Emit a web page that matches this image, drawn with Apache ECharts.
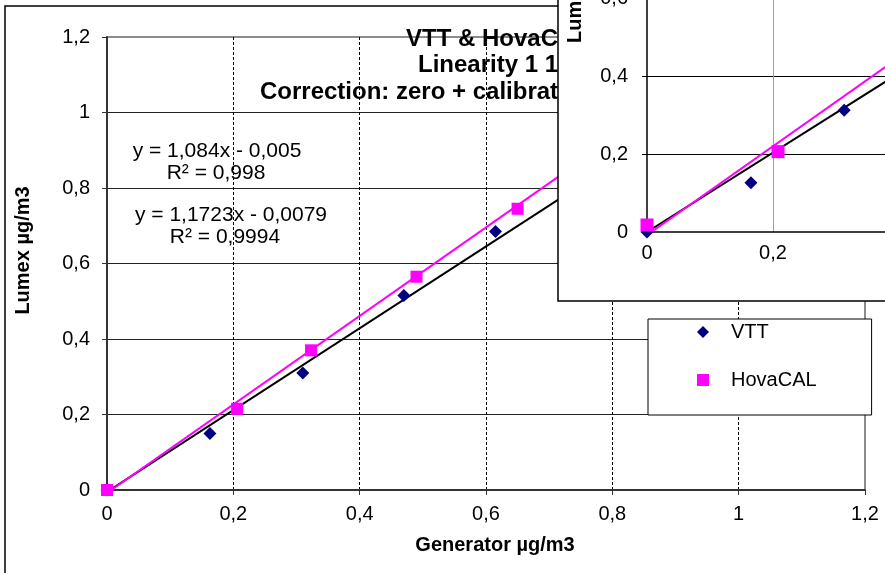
<!DOCTYPE html>
<html>
<head>
<meta charset="utf-8">
<script src="https://cdn.jsdelivr.net/npm/echarts@6/dist/echarts.min.js"></script>
<style>
  html, body { margin: 0; background: #fff; }
  #myChart { width: 885px; height: 573px; }
</style>
</head>
<body>
<div id="myChart"></div>
<script>
  // main chart points (Generator, Lumex)
  const vttMain = [[0, 0], [0.163, 0.15], [0.31, 0.31], [0.47, 0.515], [0.615, 0.685]];
  const hovaMain = [[0, 0], [0.206, 0.215], [0.323, 0.37], [0.49, 0.565], [0.65, 0.745]];
  // trend line ends
  const vttFitMain = [[0, -0.005], [0.8, 0.862]];
  const hovaFitMain = [[0, -0.008], [0.8, 0.93]];

  // inset chart (top right, partly cut off)
  const vttInset = [[0, 0], [0.165, 0.126], [0.313, 0.312]];
  const hovaInset = [[0, 0.018], [0.208, 0.206]];
  const vttFitInset = [[0, 0], [0.45, 0.458]];
  const hovaFitInset = [[0, -0.008], [0.45, 0.505]];

  const tickLabels = ['0', '0,2', '0,4', '0,6', '0,8', '1', '1,2'];
  const titleLines = ['VTT & HovaCAL', 'Linearity 1 10', 'Correction: zero + calibration'];
  const equations = ['y = 1,084x - 0,005', 'R² = 0,998', 'y = 1,1723x - 0,0079', 'R² = 0,9994'];

  const FONT = '"Liberation Sans", Arial, sans-serif';
  const fmt = v => tickLabels[Math.round(v / 0.2)];

  const dom = document.getElementById('myChart');
  const myChart = echarts.init(dom);

  const labelStyle = { color: '#000', fontSize: 20, fontFamily: FONT };
  const eqStyle = { fontSize: 21, fontFamily: FONT, fill: '#000', align: 'center', verticalAlign: 'middle' };

  const option = {
    backgroundColor: '#fff',
    animation: false,
    title: [
      { text: titleLines[0], left: 406, top: 27, padding: 0 },
      { text: titleLines[1], left: 418, top: 53, padding: 0 },
      { text: titleLines[2], left: 260, top: 80, padding: 0 }
    ].map(t => Object.assign(t, {
      textStyle: { fontFamily: FONT, fontSize: 24, fontWeight: 'bold', color: '#000' }
    })),
    legend: {
      left: 648,
      top: 319,
      orient: 'vertical',
      padding: [3, 55, 25, 49],
      itemGap: 28,
      itemWidth: 12,
      itemHeight: 12,
      backgroundColor: '#fff',
      borderColor: '#000',
      borderWidth: 1,
      borderRadius: 0,
      textStyle: { color: '#000', fontSize: 20, fontFamily: FONT, padding: [0, 0, 0, 17] },
      data: [
        { name: 'VTT', icon: 'diamond', itemStyle: { color: '#000080' } },
        { name: 'HovaCAL', icon: 'rect', itemStyle: { color: '#ff00ff' } }
      ]
    },
    grid: [
      { left: 107, top: 37, width: 758, height: 453, outerBoundsMode: 'none', show: true, borderColor: '#8c8c8c', borderWidth: 2, backgroundColor: 'transparent' },
      { left: 647, top: -2, width: 756, height: 234, outerBoundsMode: 'none', zlevel: 2 }
    ],
    xAxis: [
      {
        gridIndex: 0, type: 'value', min: 0, max: 1.2, interval: 0.2,
        name: 'Generator µg/m3', nameLocation: 'middle', nameGap: 45,
        nameTextStyle: { color: '#000', fontSize: 20, fontWeight: 'bold', fontFamily: FONT, padding: [0, 0, 0, 18] },
        axisLine: { lineStyle: { color: '#333', width: 2 } },
        axisTick: { show: true, length: 5, lineStyle: { color: '#333' } },
        axisLabel: Object.assign({ margin: 14, formatter: fmt }, labelStyle),
        splitLine: { show: true, showMinLine: false, showMaxLine: false, lineStyle: { color: '#000', width: 1, type: [3, 2] } }
      },
      {
        gridIndex: 1, type: 'value', min: 0, max: 1.2, interval: 0.2, zlevel: 2,
        axisLine: { lineStyle: { color: '#000', width: 1.5 } },
        axisTick: { show: false },
        axisLabel: Object.assign({ margin: 11, formatter: fmt }, labelStyle),
        splitLine: { show: true, showMinLine: false, lineStyle: { color: '#a0a0a0', width: 1 } }
      }
    ],
    yAxis: [
      {
        gridIndex: 0, type: 'value', min: 0, max: 1.2, interval: 0.2,
        name: 'Lumex µg/m3', nameLocation: 'middle', nameGap: 74,
        nameTextStyle: { color: '#000', fontSize: 20, fontWeight: 'bold', fontFamily: FONT, padding: [0, 0, 0, 26] },
        axisLine: { show: true, lineStyle: { color: '#333', width: 2 } },
        axisTick: { show: true, length: 5, lineStyle: { color: '#333' } },
        axisLabel: Object.assign({ margin: 17, formatter: fmt }, labelStyle),
        splitLine: { show: true, showMinLine: false, showMaxLine: false, lineStyle: { color: '#222', width: 1 } }
      },
      {
        gridIndex: 1, type: 'value', min: 0, max: 0.6, interval: 0.2, zlevel: 2,
        axisLine: { show: true, lineStyle: { color: '#000', width: 1.5 } },
        axisTick: { show: true, length: 5, lineStyle: { color: '#000' } },
        axisLabel: Object.assign({ margin: 19, formatter: fmt }, labelStyle),
        splitLine: { show: true, showMinLine: false, lineStyle: { color: '#000', width: 1 } }
      }
    ],
    graphic: [
      // outer chart frame
      { type: 'rect', zlevel: 0, z: 100, silent: true, shape: { x: 5, y: 6, width: 1000, height: 1000 }, style: { fill: 'none', stroke: '#000', lineWidth: 1.5 } },
      // trend line equations
      { type: 'text', zlevel: 0, z: 100, x: 217, y: 151, style: Object.assign({ text: equations[0] }, eqStyle) },
      { type: 'text', zlevel: 0, z: 100, x: 216, y: 173, style: Object.assign({ text: equations[1] }, eqStyle) },
      { type: 'text', zlevel: 0, z: 100, x: 231, y: 215, style: Object.assign({ text: equations[2] }, eqStyle) },
      { type: 'text', zlevel: 0, z: 100, x: 225, y: 237, style: Object.assign({ text: equations[3] }, eqStyle) },
      // inset chart box, covers the main chart
      { type: 'rect', zlevel: 1, silent: true, shape: { x: 558, y: -20, width: 400, height: 321 }, style: { fill: '#fff', stroke: '#000', lineWidth: 1.5 } },
      { type: 'text', zlevel: 2, x: 575, y: 43, rotation: Math.PI / 2, style: { text: 'Lumex µg/m3', fontSize: 20, fontWeight: 'bold', fontFamily: FONT, fill: '#000', align: 'left', verticalAlign: 'middle' } }
    ],
    series: [
      { name: 'fitVTT', type: 'line', xAxisIndex: 0, yAxisIndex: 0, data: vttFitMain, showSymbol: false, symbol: 'none', lineStyle: { color: '#000', width: 2 }, z: 2 },
      { name: 'fitHova', type: 'line', xAxisIndex: 0, yAxisIndex: 0, data: hovaFitMain, showSymbol: false, symbol: 'none', lineStyle: { color: '#ff00ff', width: 2 }, z: 2 },
      { name: 'VTT', type: 'scatter', xAxisIndex: 0, yAxisIndex: 0, data: vttMain, symbol: 'diamond', symbolSize: 13, itemStyle: { color: '#000080', opacity: 1 }, z: 3 },
      { name: 'HovaCAL', type: 'scatter', xAxisIndex: 0, yAxisIndex: 0, data: hovaMain, symbol: 'rect', symbolSize: 12, itemStyle: { color: '#ff00ff', opacity: 1 }, z: 4 },

      { name: 'fitVTTi', type: 'line', xAxisIndex: 1, yAxisIndex: 1, zlevel: 2, data: vttFitInset, showSymbol: false, symbol: 'none', lineStyle: { color: '#000', width: 2 }, z: 2 },
      { name: 'fitHovai', type: 'line', xAxisIndex: 1, yAxisIndex: 1, zlevel: 2, data: hovaFitInset, showSymbol: false, symbol: 'none', lineStyle: { color: '#ff00ff', width: 2 }, z: 2 },
      { name: 'VTT', type: 'scatter', xAxisIndex: 1, yAxisIndex: 1, zlevel: 2, data: vttInset, symbol: 'diamond', symbolSize: 13, itemStyle: { color: '#000080', opacity: 1 }, z: 3 },
      { name: 'HovaCAL', type: 'scatter', xAxisIndex: 1, yAxisIndex: 1, zlevel: 2, data: hovaInset, symbol: 'rect', symbolSize: 13, itemStyle: { color: '#ff00ff', opacity: 1 }, z: 4 }
    ]
  };

  myChart.setOption(option);
</script>
</body>
</html>
